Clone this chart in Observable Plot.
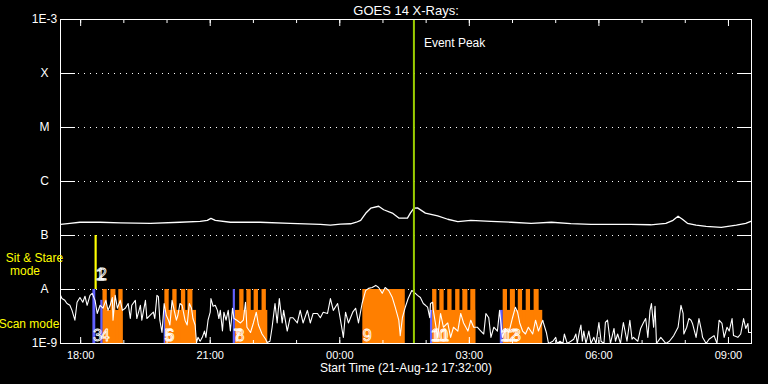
<!DOCTYPE html>
<html><head><meta charset="utf-8">
<script src="https://cdn.jsdelivr.net/npm/d3@7"></script>
<script src="https://cdn.jsdelivr.net/npm/@observablehq/plot@0.6"></script>
<style>
html,body{margin:0;padding:0;background:#000;}
#chart svg{display:block;}
</style></head><body><div id="chart"></div>
<script>
// ---- data ----
const title = "GOES 14 X-Rays:";
const axisTitle = "Start Time (21-Aug-12 17:32:00)";
const startTime = Date.UTC(2012, 7, 21, 17, 32);   // 21-Aug-12 17:32:00
const spanMinutes = 960;                            // 16 hours shown
const peakMinute = 491;                             // event peak (~01:43)

const levels = [1e-9, 1e-8, 1e-7, 1e-6, 1e-5, 1e-4, 1e-3];
const levelLabels = ["1E-9", "A", "B", "C", "M", "X", "1E-3"];

// GOES 1-8 A channel: [minutes after start, W/m^2]
const longChannel = [[0,1.61e-7],[13,1.68e-7],[27,1.76e-7],[55,1.76e-7],[83,1.72e-7],[125,1.68e-7],[166,1.76e-7],[194,1.83e-7],[204,1.91e-7],[209,2.08e-7],[215,1.91e-7],[236,1.76e-7],[277,1.76e-7],[319,1.68e-7],[361,1.61e-7],[375,1.55e-7],[389,1.62e-7],[403,1.65e-7],[411,1.76e-7],[417,1.91e-7],[424,2.58e-7],[431,3.2e-7],[442,3.48e-7],[449,3.0e-7],[461,2.6e-7],[470,2.1e-7],[482,2.1e-7],[486,2.6e-7],[491,3.2e-7],[496,3.25e-7],[507,2.6e-7],[524,2.3e-7],[538,2.0e-7],[552,1.8e-7],[570,1.91e-7],[598,1.83e-7],[626,1.76e-7],[654,1.68e-7],[682,1.76e-7],[709,1.66e-7],[737,1.61e-7],[765,1.61e-7],[792,1.61e-7],[820,1.58e-7],[841,1.68e-7],[851,1.91e-7],[858,2.27e-7],[864,2.0e-7],[871,1.68e-7],[883,1.55e-7],[897,1.48e-7],[918,1.42e-7],[939,1.55e-7],[952,1.68e-7],[959,1.83e-7]];

// GOES 0.5-4 A channel: [minutes after start, W/m^2]
const shortChannel = [[0,7.8e-9],[2,6.8e-9],[6,6.3e-9],[9,5.5e-9],[13,5.1e-9],[16,4.1e-9],[20,2.7e-9],[23,5.8e-9],[27,7.1e-9],[31,5.8e-9],[34,7.5e-9],[37,5.1e-9],[41,7.8e-9],[44,8.5e-9],[48,6.3e-9],[51,3.6e-9],[55,5.1e-9],[59,4.5e-9],[63,6.3e-9],[66,4.1e-9],[69,5.1e-9],[72,7.1e-9],[73,2.7e-9],[76,7.8e-9],[79,4.5e-9],[83,6.3e-9],[86,4.1e-9],[90,4.5e-9],[94,5.5e-9],[97,2.9e-9],[99,5.1e-9],[104,6.3e-9],[106,2.9e-9],[111,5.1e-9],[113,2.7e-9],[118,6.3e-9],[120,2.9e-9],[125,3.4e-9],[129,3.8e-9],[131,2.9e-9],[134,7.8e-9],[136,7.4e-9],[138,2.7e-9],[141,1.6e-9],[144,5.5e-9],[147,3.3e-9],[150,2.7e-9],[152,2.2e-9],[155,6.3e-9],[158,4.1e-9],[161,2.7e-9],[163,3.3e-9],[166,5.5e-9],[169,5.1e-9],[173,2.7e-9],[176,2.2e-9],[179,5.5e-9],[182,4.5e-9],[184,2.9e-9],[187,2.2e-9],[189,1.04e-9],[191,1.3e-9],[194,1.1e-9],[197,1.3e-9],[200,1.7e-9],[202,1.3e-9],[205,2.7e-9],[208,3.8e-9],[209,6.8e-9],[212,4.9e-9],[215,5.1e-9],[218,4.1e-9],[220,2.9e-9],[222,4.1e-9],[225,1.7e-9],[227,3.8e-9],[230,2.7e-9],[233,4.1e-9],[236,1.7e-9],[239,4.5e-9],[241,2.9e-9],[245,2.7e-9],[250,2.4e-9],[254,2.7e-9],[257,5.8e-9],[259,2.0e-9],[264,1.6e-9],[268,2.4e-9],[272,3.8e-9],[275,2.2e-9],[280,1.5e-9],[285,1.2e-9],[287,1.04e-9],[291,1.1e-9],[294,2.0e-9],[298,5.5e-9],[301,2.4e-9],[304,6.8e-9],[308,2.4e-9],[310,4.1e-9],[315,1.7e-9],[319,3.0e-9],[323,3.0e-9],[329,2.4e-9],[333,4.1e-9],[337,2.4e-9],[343,4.1e-9],[347,2.4e-9],[351,3.6e-9],[357,3.6e-9],[361,3.0e-9],[365,3.8e-9],[371,3.6e-9],[375,6.8e-9],[379,4.1e-9],[385,5.5e-9],[389,2.7e-9],[393,1.3e-9],[396,3.8e-9],[400,2.4e-9],[406,3.8e-9],[410,4.5e-9],[414,2.4e-9],[419,5.5e-9],[424,9.6e-9],[428,1.05e-8],[433,1.09e-8],[438,1.19e-8],[442,1.09e-8],[447,8.5e-9],[451,1.09e-8],[456,9.6e-9],[461,7.1e-9],[465,4.7e-9],[470,2.7e-9],[472,1.4e-9],[475,3.0e-9],[479,4.7e-9],[483,6.8e-9],[488,9.6e-9],[490,9.2e-9],[496,7.8e-9],[500,7.1e-9],[504,5.5e-9],[507,5.1e-9],[510,4.7e-9],[513,3.0e-9],[514,5.5e-9],[517,5.8e-9],[518,4.1e-9],[524,1.3e-9],[528,3.6e-9],[532,2.0e-9],[538,2.4e-9],[542,1.3e-9],[546,2.0e-9],[552,1.7e-9],[556,3.6e-9],[560,2.4e-9],[566,1.7e-9],[570,2.7e-9],[574,2.0e-9],[579,2.0e-9],[584,1.7e-9],[588,1.5e-9],[591,3.6e-9],[595,3.0e-9],[598,1.3e-9],[602,2.0e-9],[607,1.7e-9],[610,4.1e-9],[614,1.3e-9],[618,1.9e-9],[623,1.6e-9],[628,3.0e-9],[632,4.7e-9],[635,3.8e-9],[638,2.4e-9],[642,1.7e-9],[646,1.5e-9],[650,2.0e-9],[656,1.5e-9],[660,2.7e-9],[664,1.7e-9],[670,2.7e-9],[671,2.4e-9],[675,1.6e-9],[678,1.0e-9],[684,1.1e-9],[688,1.3e-9],[690,1.0e-9],[694,1.1e-9],[698,1.0e-9],[700,1.5e-9],[704,1.0e-9],[709,1.1e-9],[713,1.2e-9],[716,1.5e-9],[718,1.0e-9],[721,1.7e-9],[723,2.2e-9],[725,1.1e-9],[727,1.7e-9],[730,1.0e-9],[734,1.7e-9],[737,1.0e-9],[741,1.3e-9],[744,1.0e-9],[748,2.45e-9],[751,1.1e-9],[755,1.0e-9],[757,2.45e-9],[760,2.7e-9],[764,1.0e-9],[769,1.9e-9],[771,1.1e-9],[774,1.5e-9],[778,1.0e-9],[781,2.0e-9],[782,2.45e-9],[787,1.1e-9],[791,2.7e-9],[794,1.2e-9],[796,1.3e-9],[802,1.1e-9],[806,1.9e-9],[810,2.45e-9],[813,2.9e-9],[816,1.3e-9],[819,4.1e-9],[821,5.5e-9],[824,2.0e-9],[826,4.9e-9],[828,1.0e-9],[834,1.3e-9],[841,1.0e-9],[846,1.1e-9],[852,1.4e-9],[858,2.0e-9],[862,5.1e-9],[865,3.6e-9],[866,1.5e-9],[870,2.0e-9],[873,2.9e-9],[876,2.7e-9],[878,2.35e-9],[883,1.3e-9],[887,2.9e-9],[891,1.6e-9],[892,1.3e-9],[897,1.0e-9],[901,1.2e-9],[908,1.4e-9],[912,1.0e-9],[915,2.7e-9],[919,2.35e-9],[922,1.3e-9],[926,2.0e-9],[929,1.7e-9],[933,2.9e-9],[935,1.4e-9],[941,1.3e-9],[945,1.5e-9],[949,2.9e-9],[952,1.9e-9],[955,2.35e-9],[956,1.6e-9],[959,1.6e-9]];

// Observation blocks: [start minute, end minute, top flux]
const scanBlue = [[45,49,1e-8],[56,59,6.3e-9],[144,146,4.1e-9],[240,243,1e-8],[514,517,4.1e-9],[611,615,4.1e-9]];
const scanBase = [[59,87,4.1e-9],[145,189,4.1e-9],[243,288,4.1e-9],[517,577,4.1e-9],[615,670,4.1e-9]];
const scanTeeth = [[59,65],[70,77],[81,87],[145,151],[156,162],[168,174],[177,184],[249,255],[259,265],[269,275],[280,286],[420,479],[517,523],[527,533],[538,544],[549,555],[559,566],[570,577],[615,621],[625,632],[636,642],[647,653],[658,665]];
const sitStare = [[48,51]];
const sitLabels = [["1",49],["2",52]];
const scanLabels = [["3",45],["4",56],["5",144],["6",146],["7",240],["8",243],["9",420],["10",514],["11",517],["12",611],["13",615]];

// ---- chart ----
const t = m => new Date(startTime + m * 60000);
const majorTicks = d3.range(28, spanMinutes, 180).map(t);
const minorTicks = d3.range(28, spanMinutes, 60).map(t);
const ORANGE = "#ff7f00", BLUE = "#6161ff", YELLOW = "#ffff00", GREEN = "#9acd00", WHITE = "#ffffff";

const chart = Plot.plot({
  width: 768, height: 384,
  marginLeft: 60, marginRight: 17, marginTop: 19, marginBottom: 41,
  style: {background: "#000", color: WHITE, fontFamily: "'Liberation Sans', sans-serif", fontSize: "12px"},
  x: {type: "utc", domain: [t(0), t(spanMinutes)]},
  y: {type: "log", domain: [levels[0], levels[levels.length - 1]]},
  marks: [
    Plot.gridY({ticks: levels.slice(1, -1), stroke: WHITE, strokeOpacity: 1, strokeDasharray: "1,5"}),
    Plot.axisY({anchor: "left", ticks: levels, tickSize: -15, tickFormat: () => "", label: null, stroke: WHITE}),
    Plot.axisY({anchor: "right", ticks: levels, tickSize: -15, tickFormat: () => "", label: null, stroke: WHITE}),
    Plot.rectY(scanBase, {x1: d => t(d[0]), x2: d => t(d[1]), y1: levels[0], y2: d => d[2], fill: ORANGE}),
    Plot.rectY(scanTeeth, {x1: d => t(d[0]), x2: d => t(d[1]), y1: levels[0], y2: levels[1], fill: ORANGE}),
    Plot.rectY(scanBlue, {x1: d => t(d[0]), x2: d => t(d[1]), y1: levels[0], y2: d => d[2], fill: BLUE}),
    Plot.rectY(sitStare, {x1: d => t(d[0]), x2: d => t(d[1]), y1: levels[1], y2: levels[2], fill: YELLOW}),
    Plot.line(shortChannel, {x: d => t(d[0]), y: d => d[1], stroke: WHITE, strokeWidth: 1.1, clip: true}),
    Plot.line(longChannel, {x: d => t(d[0]), y: d => d[1], stroke: WHITE, strokeWidth: 1.3, clip: true}),
    Plot.text(sitLabels, {x: d => t(d[1]), y: levels[1], text: d => d[0], dy: -10, textAnchor: "start", lineAnchor: "bottom", fontSize: 16, fill: "none", stroke: WHITE, strokeWidth: 0.8}),
    Plot.text(scanLabels, {x: d => t(d[1]), y: levels[0], text: d => d[0], dy: -3, textAnchor: "start", lineAnchor: "bottom", fontSize: 16, fill: "none", stroke: WHITE, strokeWidth: 0.8}),
    Plot.ruleX([t(peakMinute)], {stroke: GREEN, strokeWidth: 2}),
    Plot.text(["Event Peak"], {x: t(peakMinute), frameAnchor: "top", dx: 10, dy: 24, textAnchor: "start", lineAnchor: "middle", fill: WHITE}),
    Plot.frame({stroke: WHITE}),
    Plot.axisX({anchor: "bottom", ticks: minorTicks, tickSize: -3, tickFormat: () => "", label: null, stroke: WHITE}),
    Plot.axisX({anchor: "bottom", ticks: majorTicks, tickSize: -6, tickFormat: () => "", label: null, stroke: WHITE}),
    Plot.axisX({anchor: "top", ticks: minorTicks, tickSize: -3, tickFormat: () => "", label: null, stroke: WHITE}),
    Plot.axisX({anchor: "top", ticks: majorTicks, tickSize: -6, tickFormat: () => "", label: null, stroke: WHITE}),
    Plot.axisX({anchor: "bottom", ticks: majorTicks, tickSize: 0, tickPadding: 8, tickFormat: d3.utcFormat("%H:%M"), label: null, fill: WHITE, fontSize: 11}),
    Plot.text(levels, {y: d => d, text: (d, i) => levelLabels[i], frameAnchor: "left", dx: -16, textAnchor: "middle", lineAnchor: "middle", fill: WHITE}),
    Plot.text([axisTitle], {frameAnchor: "bottom", dy: 25, lineAnchor: "middle", fill: WHITE}),
    Plot.text([title], {frameAnchor: "top", dy: -9, lineAnchor: "middle", fill: WHITE, fontSize: 13}),
    Plot.text(["Sit & Stare"], {frameAnchor: "bottom-left", dx: -26, dy: -85, textAnchor: "middle", lineAnchor: "middle", fill: YELLOW}),
    Plot.text(["mode"], {frameAnchor: "bottom-left", dx: -35.5, dy: -72, textAnchor: "middle", lineAnchor: "middle", fill: YELLOW}),
    Plot.text(["Scan mode"], {frameAnchor: "bottom-left", dx: -31.5, dy: -19, textAnchor: "middle", lineAnchor: "middle", fill: YELLOW})
  ]
});
document.getElementById("chart").append(chart);
</script>
</body></html>
